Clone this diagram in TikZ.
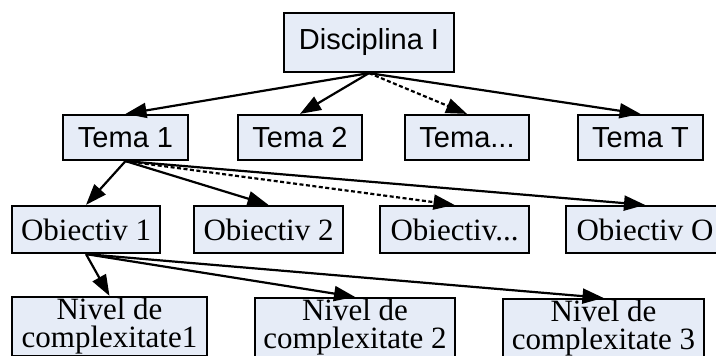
\documentclass[tikz,border=0pt]{standalone}
\usepackage{fontspec}
\setmainfont{Liberation Serif}
\newfontfamily\arialfont{Liberation Sans}
\usepackage{tikz}
\usetikzlibrary{arrows.meta}
\definecolor{boxfill}{RGB}{230,236,247}
\tikzstyle{bx}=[rectangle,draw,line width=2.2pt,fill=boxfill,inner sep=0pt,align=center]
\tikzstyle{tm}=[bx,font=\arialfont\fontsize{29}{31}\selectfont,minimum height=45pt]
\tikzstyle{ob}=[bx,font=\fontsize{31}{31}\selectfont,minimum height=47pt]
\tikzstyle{nv}=[bx,font=\fontsize{31}{28}\selectfont,minimum height=59pt]
\tikzstyle{ar}=[line width=2.2pt,-{Triangle[length=21pt,width=15pt]}]
\tikzstyle{da}=[ar,dash pattern=on 4pt off 2.5pt]
\begin{document}
\begin{tikzpicture}[x=1pt,y=-1pt]
\useasboundingbox (0,0) rectangle (716,356);
%disciplina
\node[tm,minimum width=170pt,minimum height=59pt] (disc) at (369,42.5) {Disciplina I};

%teme
\node[tm,minimum width=125pt] (t1) at (125.5,137.5) {Tema 1};
\node[tm,minimum width=124pt] (t2) at (300,137.5) {Tema 2};
\node[tm,minimum width=124pt] (t3) at (467,137.5) {Tema...};
\node[tm,minimum width=125pt] (tT) at (640.5,137.5) {Tema T};

%obiective
\node[ob,minimum width=148pt] (o1) at (86,229.5) {Obiectiv 1};
\node[ob,minimum width=149pt] (o2) at (268.5,229.5) {Obiectiv 2};
\node[ob,minimum width=149pt] (o3) at (454.5,229.5) {Obiectiv...};
\node[ob,minimum width=158pt] (oO) at (645,229.5) {Obiectiv O};

%niveluri
\node[nv,minimum width=195pt] (n1) at (109.5,326.5) {Nivel de\\complexitate1};
\node[nv,minimum width=200pt] (n2) at (355,327.5) {Nivel de\\complexitate 2};
\node[nv,minimum width=201pt] (n3) at (603.5,328.5) {Nivel de\\complexitate 3};

%sageti
\foreach \t in {t1,t2,tT} {
  \draw[ar] (disc.south) -- (\t.north);
}
\draw[da] (disc.south) -- (t3.north);
\foreach \o in {o1,o2,oO} {
  \draw[ar] (t1.south) -- (\o.north);
}
\draw[da] (t1.south) -- (o3.north);
\foreach \n in {n1,n2,n3} {
  \draw[ar] (o1.south) -- (\n.north);
}
\end{tikzpicture}
\end{document}
